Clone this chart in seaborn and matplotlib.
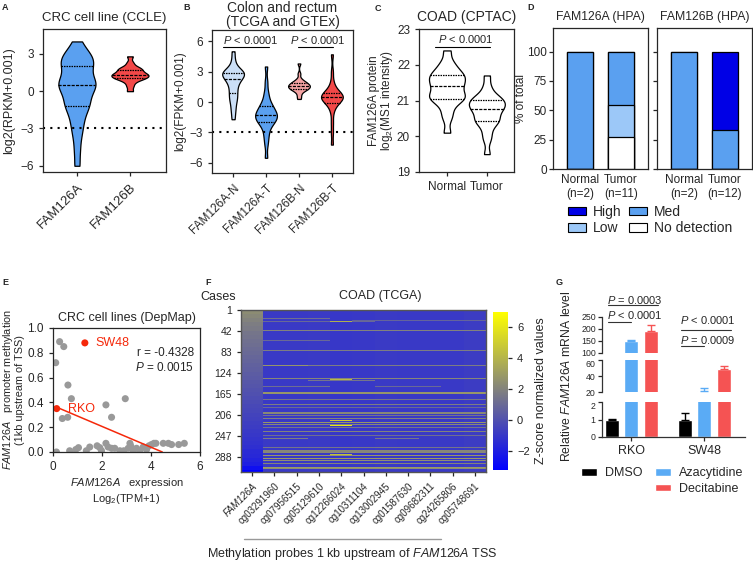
# FAM126A expression / methylation multi-panel figure
import numpy as np
import pandas as pd
import seaborn as sns
import matplotlib.pyplot as plt
from matplotlib.colors import LinearSegmentedColormap
from matplotlib.patches import Patch
from matplotlib.container import BarContainer

# ---------------- data ----------------
# A: CRC cell lines (CCLE), log2(RPKM+0.001)
a_genes = ['FAM126A', 'FAM126B']
a_fam126a = [4.0, 3.4, 3.1, 2.9, 2.7, 2.5, 2.35, 2.2, 2.0, 1.8, 1.5, 1.2, 1.0, 0.8, 0.65, 0.55,
             0.45, 0.3, 0.1, -0.1, -0.4, -0.7, -0.95, -1.15, -1.3, -1.7, -2.1, -2.6, -3.1, -3.8,
             -4.8, -6.0]
a_fam126b = [0.0, 0.4, 0.7, 0.9, 1.0, 1.05, 1.1, 1.2, 1.25, 1.3, 1.35, 1.4, 1.5, 1.6, 1.7,
             1.8, 1.85, 2.0, 2.3, 2.8]

# B: colon and rectum (TCGA and GTEx), log2(FPKM+0.001)
b_groups = ['FAM126A-N', 'FAM126A-T', 'FAM126B-N', 'FAM126B-T']
b_a_normal = [5.0, 4.2, 3.6, 3.3, 3.1, 3.0, 2.9, 2.85, 2.8, 2.7, 2.6, 2.5, 2.3, 2.2, 2.0,
              1.8, 1.5, 1.2, 0.9, 0.6, 0.3, 0.0, -0.5, -1.0, -1.7]
b_a_tumor = [3.5, 2.0, 1.0, 0.5, 0.0, -0.3, -0.4, -0.6, -0.8, -1.0, -1.1, -1.2, -1.3, -1.4,
             -1.5, -1.6, -1.8, -1.9, -2.0, -2.2, -2.5, -3.0, -3.5, -4.2, -5.5]
b_b_normal = [3.8, 2.8, 2.3, 2.1, 2.0, 1.9, 1.85, 1.8, 1.7, 1.65, 1.6, 1.55, 1.5, 1.45, 1.4,
              1.3, 1.25, 1.2, 1.1, 0.9, 0.6, 0.3]
b_b_tumor = [4.7, 3.0, 2.0, 1.5, 1.2, 1.0, 0.9, 0.8, 0.7, 0.6, 0.55, 0.5, 0.45, 0.4, 0.3,
             0.2, 0.1, 0.0, -0.2, -0.5, -1.0, -2.0, -3.0, -4.2]

# C: COAD (CPTAC) FAM126A protein
c_groups = ['Normal', 'Tumor']
c_normal = [22.4, 22.1, 21.95, 21.85, 21.75, 21.7, 21.65, 21.6, 21.5, 21.45, 21.4, 21.3,
            21.2, 21.15, 21.1, 21.05, 21.0, 20.9, 20.7, 20.5, 20.1]
c_tumor = [21.7, 21.4, 21.2, 21.1, 21.05, 21.0, 20.95, 20.9, 20.85, 20.8, 20.75, 20.7,
           20.6, 20.5, 20.45, 20.4, 20.3, 20.1, 19.9, 19.5]

# D: HPA staining (% of total), levels bottom -> top
d_levels = ['No detection', 'Low', 'Med', 'High']
d_samples = ['Normal\n(n=2)', 'Tumor\n(n=11)']
d_samples_b = ['Normal\n(n=2)', 'Tumor\n(n=12)']
d_a_normal = [0, 0, 100, 0]
d_a_tumor = [27.3, 27.3, 45.4, 0]
d_b_normal = [0, 0, 100, 0]
d_b_tumor = [0, 0, 33.3, 66.7]

# E: DepMap CRC cell lines
e_expr = [0.11, 0.27, 0.44, 0.61, 0.75, 0.60, 0.38, 2.16, 2.39, 2.95, 0.14, 0.68, 0.93, 1.04,
          1.36, 1.50, 1.80, 1.91, 1.98, 2.16, 2.25, 2.39, 2.52, 2.73, 2.89, 3.07, 3.14, 3.17,
          3.27, 3.41, 3.55, 3.68, 3.82, 3.92, 4.02, 4.12, 4.20, 4.50, 4.71, 4.84, 5.13, 5.36]
e_meth = [0.72, 0.89, 0.85, 0.54, 0.43, 0.28, 0.27, 0.38, 0.28, 0.43, 0.00, 0.01, 0.02, 0.035,
          0.01, 0.04, 0.05, 0.035, 0.01, 0.07, 0.04, 0.03, 0.03, 0.01, 0.01, 0.03, 0.07, 0.05,
          0.01, 0.03, 0.01, 0.04, 0.02, 0.05, 0.06, 0.07, 0.07, 0.07, 0.07, 0.06, 0.06, 0.07]
e_named = ['SW48', 'RKO']
e_named_expr = [1.30, 0.15]
e_named_meth = [0.88, 0.35]

# F: COAD (TCGA) z-scores
n_cases = 316
f_labels = ['FAM126A', 'cg03291960', 'cg07956515', 'cg05129610', 'cg12266024', 'cg10311104',
            'cg13002945', 'cg01587630', 'cg09682311', 'cg24265806', 'cg05748691']
case_ticks = [1, 42, 83, 124, 165, 206, 247, 288]
fam126a_z_blocks = [2.4, 2.2, 2.0, 1.8, 1.7, 1.5, 1.4, 1.3, 1.2, 1.1, 1.0, 0.9, 0.8, 0.7,
                    0.6, 0.5, 0.4, 0.3, 0.2, 0.1, 0.0, -0.1, -0.2, -0.3, -0.4, -0.5, -0.6,
                    -0.7, -0.8, -0.9, -1.0, -1.1, -1.2, -1.3, -1.5, -1.6, -1.8, -2.0, -2.6, -3.2]
probe_base = [-0.9, -0.9, -0.85, -1.0, -0.95, -0.85, -0.9, -0.9, -0.9, -0.8]
streak_case = [17, 20, 22, 40, 60, 79, 82, 108, 108, 133, 138, 149, 149, 161, 175, 184, 190,
               200, 206, 212, 215, 219, 223, 230, 237, 245, 251, 251, 258, 268, 274, 283, 289,
               294, 300, 307, 310]
streak_len = [2, 2, 2, 2, 2, 2, 1, 2, 2, 2, 1, 2, 2, 3, 2, 3, 2, 4, 2, 2, 1, 2, 2, 2, 2, 1, 2,
              2, 1, 2, 6, 2, 2, 2, 2, 2, 2]
streak_first = [1, 5, 1, 1, 1, 1, 1, 1, 3, 1, 3, 1, 6, 1, 1, 1, 1, 1, 1, 1, 1, 1, 1, 1, 1, 1,
                1, 6, 1, 1, 1, 1, 1, 1, 1, 1, 1]
streak_last = [3, 10, 5, 10, 3, 10, 10, 2, 10, 10, 5, 3, 8, 10, 10, 10, 10, 10, 10, 10, 10, 10,
               10, 10, 10, 10, 2, 7, 10, 10, 10, 10, 10, 10, 10, 10, 10]
streak_z = [1.2, 0.8, 1.0, 2.0, 1.0, 1.8, 0.8, 2.8, 1.8, 2.2, 1.5, 1.2, 1.0, 2.8, 1.5, 1.8, 1.0,
            2.2, 1.5, 2.0, 1.5, 2.8, 2.2, 1.5, 2.0, 1.2, 1.8, 1.5, 1.0, 1.5, 2.2, 2.8, 3.0, 2.5,
            2.0, 3.0, 2.5]
hot_case = [22, 135, 216, 225, 282]
hot_col = [4, 4, 4, 4, 4]
hot_z = [3.8, 4.2, 5.0, 6.0, 4.5]

# G: relative FAM126A mRNA after demethylating treatment
g_cells = ['RKO', 'SW48']
g_treat = ['DMSO', 'Azacytidine', 'Decitabine']
g_mean_rko = [1.0, 150, 190]
g_sd_rko = [0.02, 5, 25]
g_mean_sw48 = [1.0, 21, 49]
g_sd_sw48 = [0.35, 4, 4]

# ---------------- style ----------------
sns.set_style('ticks')
plt.rcParams['font.family'] = ['Liberation Sans', 'DejaVu Sans']
plt.rcParams['mathtext.fontset'] = 'custom'
plt.rcParams['mathtext.it'] = 'Liberation Sans:italic'
plt.rcParams['mathtext.rm'] = 'Liberation Sans'
plt.rcParams['font.size'] = 8
plt.rcParams['axes.linewidth'] = 0.9
plt.rcParams['xtick.major.width'] = 0.9
plt.rcParams['ytick.major.width'] = 0.9
plt.rcParams['xtick.major.size'] = 3
plt.rcParams['ytick.major.size'] = 3

W, H = 753, 561
fig = plt.figure(figsize=(W / 100, H / 100), dpi=100)


def box(l, t, r, b):
    return [l / W, 1 - b / H, (r - l) / W, (b - t) / H]


def letter(x, y, s):
    fig.text(x / W, 1 - y / H, s, fontsize=6.5, fontweight='bold', va='top')


PTXT = r'$\it{P}$'
blue = '#5aa0f0'
red = '#f24848'

# ---------------- A ----------------
ax = fig.add_axes(box(43, 29, 166, 172))
df_a = pd.DataFrame({'gene': ['FAM126A'] * len(a_fam126a) + ['FAM126B'] * len(a_fam126b),
                     'value': a_fam126a + a_fam126b})
sns.violinplot(data=df_a, x='gene', y='value', hue='gene', palette=[blue, red], inner='quart',
               cut=0, density_norm='width', width=0.7, bw_adjust=0.5, linewidth=0.9,
               linecolor='black', saturation=1, legend=False, ax=ax)
ax.axhline(-3, ls=(0, (1, 2.5)), color='black', lw=1.5)
ax.set_ylim(-6.5, 5)
ax.set_xlim(-0.64, 1.68)
ax.set_yticks([-6, -3, 0, 3])
ax.set_xlabel('')
ax.set_ylabel('log2(RPKM+0.001)', fontsize=9)
ax.set_title('CRC cell line (CCLE)', fontsize=9.5, pad=6)
ax.tick_params(axis='y', labelsize=8.5)
ax.tick_params(axis='x', labelsize=9.5)
plt.setp(ax.get_xticklabels(), rotation=45, ha='right', rotation_mode='anchor')
letter(2, 3, 'A')

# ---------------- B ----------------
ax = fig.add_axes(box(212, 30, 353, 173))
b_lists = [b_a_normal, b_a_tumor, b_b_normal, b_b_tumor]
df_b = pd.DataFrame({'group': np.repeat(b_groups, [len(v) for v in b_lists]),
                     'value': np.concatenate(b_lists)})
sns.violinplot(data=df_b, x='group', y='value', hue='group',
               palette=['#cbdff7', blue, '#f5a4a4', red], inner='quart', cut=0,
               density_norm='width', width=0.66, bw_adjust=0.5, linewidth=0.9,
               linecolor='black', saturation=1, legend=False, ax=ax)
ax.axhline(-3, ls=(0, (1, 2.5)), color='black', lw=1.5)
ax.set_ylim(-7, 7.1)
ax.set_xlim(-0.64, 3.64)
ax.set_yticks([-6, -3, 0, 3, 6])
ax.set_xlabel('')
ax.set_ylabel('log2(FPKM+0.001)', fontsize=8.5, labelpad=2)
ax.set_title('Colon and rectum\n(TCGA and GTEx)', fontsize=10, pad=3, linespacing=1.0)
ax.tick_params(axis='y', labelsize=8.5)
ax.tick_params(axis='x', labelsize=8.5)
plt.setp(ax.get_xticklabels(), rotation=45, ha='right', rotation_mode='anchor')
for x0, x1, xt in [(-0.3, 1.1, 0.55), (1.97, 3.03, 2.58)]:
    ax.plot([x0, x1], [5.4, 5.4], color='black', lw=0.8)
    ax.text(xt, 5.5, PTXT + ' < 0.0001', ha='center', va='bottom', fontsize=8)
letter(183, 3, 'B')

# ---------------- C ----------------
ax = fig.add_axes(box(419, 29, 514, 172))
df_c = pd.DataFrame({'group': ['Normal'] * len(c_normal) + ['Tumor'] * len(c_tumor),
                     'value': c_normal + c_tumor})
sns.violinplot(data=df_c, x='group', y='value', color='white', inner='quart', cut=0,
               density_norm='width', width=0.9, bw_adjust=0.5, linewidth=0.9,
               linecolor='black', saturation=1, ax=ax)
ax.set_ylim(19, 23)
ax.set_xlim(-0.7, 1.68)
ax.set_yticks([19, 20, 21, 22, 23])
ax.set_xlabel('')
ax.set_ylabel('FAM126A protein\nlog$_2$(MS1 intensity)', fontsize=8.5, labelpad=1,
              linespacing=0.95)
ax.set_title('COAD (CPTAC)', fontsize=10, pad=6)
ax.tick_params(labelsize=8.5)
ax.plot([-0.3, 1.07], [22.5, 22.5], color='black', lw=0.8)
ax.text(0.48, 22.55, PTXT + ' < 0.0001', ha='center', va='bottom', fontsize=8)
letter(375, 4, 'C')

# ---------------- D ----------------
d_colors = ['white', '#9cc8f8', blue, '#0000e6']
for i, (bx, samples, vals_n, vals_t, title) in enumerate([
        ((553, 28, 648, 169), d_samples, d_a_normal, d_a_tumor, 'FAM126A (HPA)'),
        ((657, 28, 752, 169), d_samples_b, d_b_normal, d_b_tumor, 'FAM126B (HPA)')]):
    ax = fig.add_axes(box(*bx))
    cum_n = np.cumsum(vals_n)
    cum_t = np.cumsum(vals_t)
    for k in range(len(d_levels) - 1, -1, -1):
        df_d = pd.DataFrame({'sample': samples, 'pct': [cum_n[k], cum_t[k]]})
        sns.barplot(data=df_d, x='sample', y='pct', color=d_colors[k], saturation=1,
                    width=0.63, edgecolor='black', linewidth=0.9, ax=ax)
    ax.set_ylim(0, 120)
    ax.set_xlim(-0.66, 1.66)
    ax.set_yticks([0, 25, 50, 75, 100])
    ax.set_xlabel('')
    if i == 0:
        ax.set_ylabel('% of total', fontsize=8.5)
        ax.yaxis.set_label_coords(-0.27, 0.5)
    else:
        ax.set_ylabel('')
        ax.set_yticklabels([])
    ax.set_title(title, fontsize=8.8, pad=6)
    ax.tick_params(axis='y', labelsize=8.5, pad=1.5)
    ax.tick_params(axis='x', labelsize=8.5, length=0)
d_handles = [Patch(fc=d_colors[3], ec='black', lw=0.8, label='High'),
             Patch(fc=d_colors[1], ec='black', lw=0.8, label='Low'),
             Patch(fc=d_colors[2], ec='black', lw=0.8, label='Med'),
             Patch(fc=d_colors[0], ec='black', lw=0.8, label='No detection')]
fig.legend(handles=d_handles, loc='center', bbox_to_anchor=(650 / W, 1 - 220 / H), ncol=2,
           frameon=False, fontsize=10, handlelength=1.3, handleheight=0.55, columnspacing=0.5,
           handletextpad=0.5, labelspacing=0.2)
letter(527, 3, 'D')

# ---------------- E ----------------
ax = fig.add_axes(box(53, 328, 200, 452))
df_e = pd.DataFrame({'expr': e_expr, 'meth': e_meth})
sns.scatterplot(data=df_e, x='expr', y='meth', color='#999999', s=26, edgecolor='none', ax=ax)
df_named = pd.DataFrame({'expr': e_named_expr, 'meth': e_named_meth, 'line': e_named})
sns.scatterplot(data=df_named, x='expr', y='meth', color='#f5280a', s=26, edgecolor='none', ax=ax)
for name, xv, yv in zip(e_named, e_named_expr, e_named_meth):
    ax.text(xv + 0.45, yv, name, color='#f5280a', fontsize=9, va='center')
all_x = np.array(e_expr + e_named_expr)
all_y = np.array(e_meth + e_named_meth)
slope, intercept = np.polyfit(all_x, all_y, 1)
x_end = -intercept / slope
xs = np.array([all_x.min(), x_end])
ax.plot(xs, intercept + slope * xs, color='#f5280a', lw=1.1)
ax.text(5.75, 0.80, 'r = -0.4328', ha='right', va='center', fontsize=8.5)
ax.text(5.75, 0.68, PTXT + ' = 0.0015', ha='right', va='center', fontsize=8.5)
ax.set_xlim(0, 6)
ax.set_ylim(0, 1.0)
ax.set_xticks([0, 2, 4, 6])
ax.set_yticks([0, 0.2, 0.4, 0.6, 0.8, 1.0])
ax.yaxis.set_major_formatter(plt.FormatStrFormatter('%.1f'))
ax.set_xlabel(r'$\it{FAM126A}$   expression' + '\nLog$_2$(TPM+1)', fontsize=8, labelpad=2)
ax.set_ylabel(r'$\it{FAM126A}$   promoter methylation' + '\n(1kb upstream of TSS)',
              fontsize=7.8, labelpad=2, linespacing=1.0)
ax.set_title('CRC cell lines (DepMap)', fontsize=9, pad=5)
ax.tick_params(labelsize=8.5)
letter(2, 278, 'E')

# ---------------- F ----------------
mat = np.empty((n_cases, len(f_labels)))
mat[:, 0] = np.repeat(fam126a_z_blocks, 8)[:n_cases]
mat[:, 1:] = probe_base
for c, n, c0, c1, z in zip(streak_case, streak_len, streak_first, streak_last, streak_z):
    mat[c - 1:c - 1 + n, c0:c1 + 1] = z
for c, col, z in zip(hot_case, hot_col, hot_z):
    mat[c - 1:c + 1, col] = z
df_f = pd.DataFrame(mat, columns=f_labels)
cmap = LinearSegmentedColormap.from_list('bgy', ['#0000ff', '#808080', '#ffff00'])
ax = fig.add_axes(box(241, 310, 486, 472))
cax = fig.add_axes(box(493, 312, 508, 470))
sns.heatmap(df_f, cmap=cmap, vmin=-3.2, vmax=7, ax=ax, cbar_ax=cax, yticklabels=False,
            cbar_kws={'ticks': [-2, 0, 2, 4, 6]}, rasterized=True)
for sp in ax.spines.values():
    sp.set_visible(True)
    sp.set_color('#555555')
    sp.set_linewidth(1.0)
ax.set_yticks(np.array(case_ticks) - 0.5)
ax.set_yticklabels(case_ticks, rotation=0, fontsize=7.5)
ax.set_xticks(np.arange(len(f_labels)) + 0.5)
ax.set_xticklabels(f_labels, rotation=45, ha='right', rotation_mode='anchor', fontsize=7)
ax.get_xticklabels()[0].set_style('italic')
ax.tick_params(left=True, bottom=True, length=3)
cax.tick_params(labelsize=8, length=3)
cax.set_ylabel('Z-score normalized values', fontsize=9, labelpad=4)
fig.text(380 / W, 1 - 296 / H, 'COAD (TCGA)', ha='center', va='center', fontsize=9)
fig.text(218 / W, 1 - 297 / H, 'Cases', ha='center', va='center', fontsize=9)
fig.add_artist(plt.Line2D([244 / W, 441 / W], [1 - 539 / H, 1 - 539 / H], color='#999999',
                          lw=1.0))
fig.text(352 / W, 1 - 554 / H, 'Methylation probes 1 kb upstream of ' + r'$\it{FAM126A}$' + ' TSS',
         ha='center', va='center', fontsize=9)
letter(205, 278, 'F')

# ---------------- G ----------------
df_g = pd.DataFrame({'cell': np.repeat(g_cells, 3), 'treatment': g_treat * 2,
                     'mean': g_mean_rko + g_mean_sw48, 'sd': g_sd_rko + g_sd_sw48})
g_colors = ['black', '#5aabf5', '#f55353']
ax_top = fig.add_axes(box(602, 317, 745, 353))
ax_mid = fig.add_axes(box(602, 360, 745, 392))
ax_bot = fig.add_axes(box(602, 402, 745, 437))
for ax, lim, ticks in [(ax_top, (100, 250), [100, 150, 200, 250]),
                       (ax_mid, (20, 60), [20, 40, 60]),
                       (ax_bot, (0, 2), [0, 1, 2])]:
    sns.barplot(data=df_g, x='cell', y='mean', hue='treatment', palette=g_colors,
                saturation=1, errorbar=None, width=0.8, gap=0.28, legend=False, ax=ax)
    bar_conts = [c for c in ax.containers if isinstance(c, BarContainer)]
    for hi, cont in enumerate(bar_conts):
        for ci, bar in enumerate(cont):
            sd = df_g['sd'][(df_g['cell'] == g_cells[ci]) & (df_g['treatment'] == g_treat[hi])]
            xc = bar.get_x() + bar.get_width() / 2
            ax.errorbar([xc], [bar.get_height()], yerr=[[0], [float(sd.iloc[0])]],
                        color=g_colors[hi], lw=1.0, capsize=3, capthick=1.0)
    ax.set_ylim(*lim)
    ax.set_xlim(-0.4, 1.56)
    ax.set_yticks(ticks)
    ax.set_xlabel('')
    ax.set_ylabel('')
    ax.tick_params(labelsize=6.3, length=3, pad=1.5)
    ax.spines[['top', 'right']].set_visible(False)
    if ax is not ax_bot:
        ax.spines['bottom'].set_visible(False)
        ax.tick_params(axis='x', bottom=False, labelbottom=False)
ax_bot.tick_params(axis='x', labelsize=9, pad=3)
for sp in ['left', 'bottom']:
    for a in [ax_top, ax_mid, ax_bot]:
        a.spines[sp].set_color('#333333')
# keep the labels at the axis breaks apart
ax_mid.get_yticklabels()[-1].set_va('top')
ax_bot.get_yticklabels()[-1].set_va('top')

# significance brackets from bar positions
top_bars = [c for c in ax_top.containers if isinstance(c, BarContainer)]
bars = [[bar.get_x() + bar.get_width() / 2 for bar in cont] for cont in top_bars]
brackets = [(0, 0, 2, 300, ' = 0.0003', 321), (0, 0, 1, 229, ' < 0.0001', 258),
            (1, 0, 2, 196, ' < 0.0001', 237), (1, 0, 1, 129, ' = 0.0009', 154)]
for ci, h0, h1, yl, label, yt in brackets:
    x0 = bars[h0][ci] - 0.05
    x1 = bars[h1][ci] + (0.1 if h1 == 2 else 0.0)
    ax_top.plot([x0, x1], [yl, yl], color='#333333', lw=0.8, clip_on=False)
    ax_top.text(x0 - 0.02, yt, PTXT + label, ha='left', va='center', fontsize=8,
                clip_on=False)
fig.text(566 / W, 1 - 376 / H, r'Relative $\it{FAM126A}$ mRNA level', rotation=90,
         ha='center', va='center', fontsize=8.8)
g_handles = [Patch(fc='black', label='DMSO'), Patch(fc='none', ec='none', label=''),
             Patch(fc=g_colors[1], label='Azacytidine'), Patch(fc=g_colors[2], label='Decitabine')]
fig.legend(handles=g_handles, loc='center', bbox_to_anchor=(662 / W, 1 - 481 / H), ncol=2,
           frameon=False, fontsize=9, handlelength=1.3, handleheight=0.6, columnspacing=1.0,
           handletextpad=0.6, labelspacing=0.3)
letter(556, 278, 'G')

fig.savefig('out.png', dpi=100)
